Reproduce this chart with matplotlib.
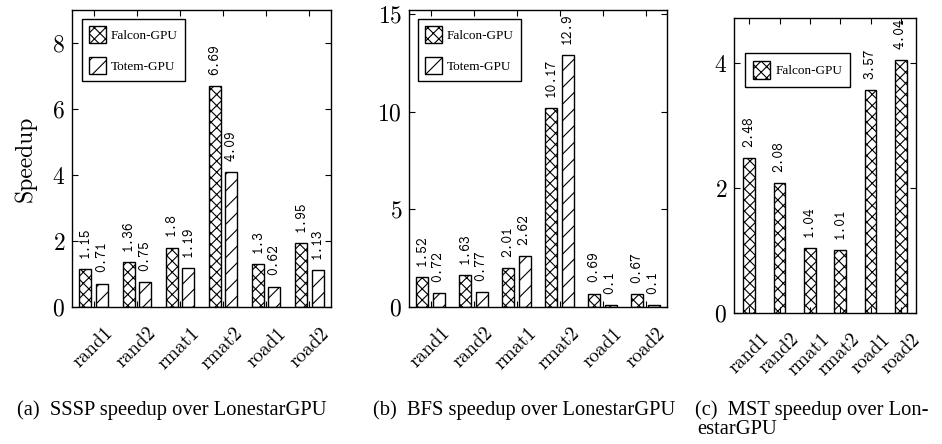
import matplotlib
matplotlib.use("Agg")
import matplotlib.pyplot as plt
import matplotlib.transforms as mtransforms
import numpy as np

plt.rcParams['hatch.linewidth'] = 0.8
plt.rcParams['axes.formatter.use_mathtext'] = True

graphs = ["rand1", "rand2", "rmat1", "rmat2", "road1", "road2"]

sssp_falcon = [1.15, 1.36, 1.8, 6.69, 1.3, 1.95]
sssp_totem = [0.71, 0.75, 1.19, 4.09, 0.62, 1.13]

bfs_falcon = [1.52, 1.63, 2.01, 10.17, 0.69, 0.67]
bfs_totem = [0.72, 0.77, 2.62, 12.9, 0.1, 0.1]

mst_falcon = [2.48, 2.08, 1.04, 1.01, 3.57, 4.04]

W, H = 942, 444
fig = plt.figure(figsize=(W / 100, H / 100), dpi=100)


def px_axes(l, t, r, b):
    return fig.add_axes([l / W, 1 - b / H, (r - l) / W, (b - t) / H])


def style(ax, ylim, yticks):
    ax.set_xlim(-0.5, 5.5)
    ax.set_ylim(*ylim)
    ax.set_yticks(yticks)
    ax.set_xticks(np.arange(len(graphs)))
    ax.set_xticklabels(graphs, rotation=45, ha="right", va="center",
                       rotation_mode="anchor", fontfamily="cmr10", fontsize=14)
    for lab in ax.get_yticklabels():
        lab.set_fontfamily("cmr10")
        lab.set_fontsize(17)
    ax.tick_params(direction="in", top=True, right=True, length=4, width=0.8)
    ax.tick_params(axis="x", pad=12)
    ax.tick_params(axis="y", pad=5)
    off = mtransforms.ScaledTranslation(0.17, -0.07, fig.dpi_scale_trans)
    for lab in ax.get_xticklabels():
        lab.set_transform(lab.get_transform() + off)
    for s in ax.spines.values():
        s.set_linewidth(1.0)


def bars(ax, x, vals, hatch, width, label):
    b = ax.bar(x, vals, width, color="white", edgecolor="black", hatch=hatch,
               linewidth=1.0, label=label)
    for xi, v in zip(x, vals):
        ax.annotate(f"{v:g}", (xi, v), xytext=(0, 8), textcoords="offset points",
                    rotation=90, ha="center", va="bottom", fontsize=10.5,
                    fontfamily="cmtt10", annotation_clip=False)
    return b


def legend(ax, anchor, pad=0.5):
    leg = ax.legend(loc="upper left", bbox_to_anchor=anchor, borderaxespad=0,
                    fancybox=False, edgecolor="black", framealpha=1,
                    prop={"family": "Liberation Serif", "size": 9.5},
                    handlelength=1.3, handleheight=1.7, handletextpad=0.4,
                    borderpad=pad, labelspacing=1.0)
    leg.get_frame().set_linewidth(1.0)


x = np.arange(len(graphs))

# (a) SSSP
ax1 = px_axes(72, 10, 331, 307)
bars(ax1, x - 0.19, sssp_falcon, "xxx", 0.28, "Falcon-GPU")
bars(ax1, x + 0.19, sssp_totem, "//", 0.28, "Totem-GPU")
style(ax1, (0, 9), [0, 2, 4, 6, 8])
ax1.set_ylabel("Speedup", fontfamily="cmr10", fontsize=17, labelpad=11)
legend(ax1, (10 / 259, 1 - 9 / 297))

# (b) BFS
ax2 = px_axes(409, 10, 667, 307)
bars(ax2, x - 0.19, bfs_falcon, "xxx", 0.28, "Falcon-GPU")
bars(ax2, x + 0.19, bfs_totem, "//", 0.28, "Totem-GPU")
style(ax2, (0, 15.2), [0, 5, 10, 15])
legend(ax2, (9 / 258, 1 - 9 / 297))

# (c) MST
ax3 = px_axes(734, 18, 916, 313)
bars(ax3, x, mst_falcon, "xxx", 0.39, "Falcon-GPU")
style(ax3, (0, 4.72), [0, 2, 4])
legend(ax3, (11 / 182, 1 - 35 / 295), pad=0.6)

cap_font = dict(fontfamily="Liberation Serif", fontsize=14.8, va="center")
fig.text(17 / W, 1 - 410 / H, "(a)  SSSP speedup over LonestarGPU", **cap_font)
fig.text(373 / W, 1 - 410 / H, "(b)  BFS speedup over LonestarGPU", **cap_font)
fig.text(695 / W, 1 - 410 / H, "(c)  MST speedup over Lon-", **cap_font)
fig.text(697 / W, 1 - 429 / H, "estarGPU", **cap_font)

fig.savefig("out.png", dpi=100)
